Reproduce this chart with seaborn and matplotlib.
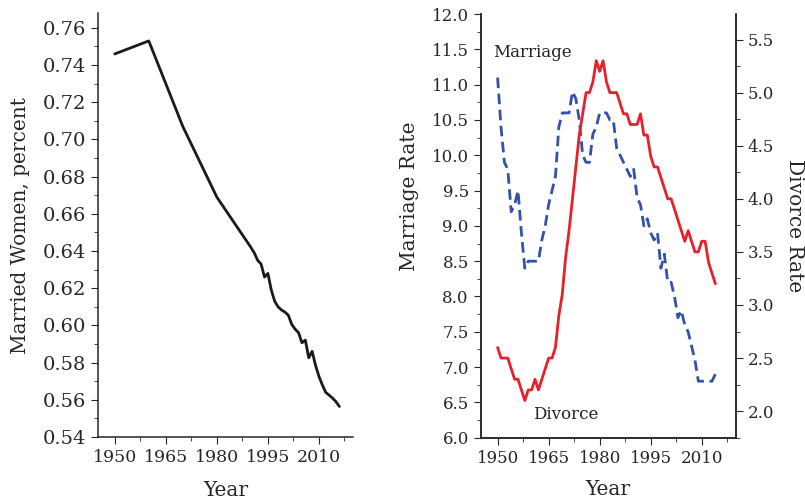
import numpy as np
import seaborn as sns
from matplotlib import pyplot as plt
from matplotlib.ticker import MultipleLocator

# -------------------------------------------
# data

women_years = [1950, 1960, 1970, 1980, 1990, 1991, 1992, 1993, 1994, 1995, 1996, 1997,
               1998, 1999, 2000, 2001, 2002, 2003, 2004, 2005, 2006, 2007, 2008, 2009,
               2010, 2011, 2012, 2013, 2014, 2015, 2016]
married_women = [0.746, 0.753, 0.707, 0.669, 0.642, 0.639, 0.635, 0.633, 0.626, 0.628,
                 0.619, 0.613, 0.610, 0.6083, 0.6072, 0.6055, 0.6006, 0.598, 0.5961,
                 0.5907, 0.5921, 0.5826, 0.5861, 0.5785, 0.5726, 0.568, 0.564, 0.5625,
                 0.5609, 0.559, 0.5564]

rate_years = list(range(1950, 2015))
marriage_rate = [11.1, 10.4, 9.9, 9.8, 9.2, 9.3, 9.5, 8.9, 8.4, 8.5,
                 8.5, 8.5, 8.5, 8.8, 9.0, 9.3, 9.5, 9.7, 10.4, 10.6,
                 10.6, 10.6, 10.9, 10.8, 10.5, 10.0, 9.9, 9.9, 10.3, 10.4,
                 10.6, 10.6, 10.6, 10.5, 10.5, 10.1, 10.0, 9.9, 9.8, 9.7,
                 9.8, 9.4, 9.3, 9.0, 9.1, 8.9, 8.8, 8.9, 8.4, 8.6,
                 8.2, 8.2, 8.0, 7.7, 7.8, 7.6, 7.5, 7.3, 7.1, 6.8,
                 6.8, 6.8, 6.8, 6.8, 6.9]
divorce_rate = [2.6, 2.5, 2.5, 2.5, 2.4, 2.3, 2.3, 2.2, 2.1, 2.2,
                2.2, 2.3, 2.2, 2.3, 2.4, 2.5, 2.5, 2.6, 2.9, 3.1,
                3.45, 3.7, 4.0, 4.3, 4.6, 4.8, 5.0, 5.0, 5.1, 5.3,
                5.2, 5.3, 5.1, 5.0, 5.0, 5.0, 4.9, 4.8, 4.8, 4.7,
                4.7, 4.7, 4.8, 4.6, 4.6, 4.4, 4.3, 4.3, 4.2, 4.1,
                4.0, 4.0, 3.9, 3.8, 3.7, 3.6, 3.7, 3.6, 3.5, 3.5,
                3.6, 3.6, 3.4, 3.3, 3.2]

year_ticks = [1950, 1965, 1980, 1995, 2010]

# -------------------------------------------
# style

sns.set_style('ticks')
plt.rcParams['font.family'] = ['DejaVu Serif']
plt.rcParams['font.size'] = 12
plt.rcParams['axes.linewidth'] = 1.1
plt.rcParams['xtick.major.size'] = 5
plt.rcParams['ytick.major.size'] = 5
plt.rcParams['xtick.minor.size'] = 3
plt.rcParams['ytick.minor.size'] = 3
plt.rcParams['xtick.labelsize'] = 12
plt.rcParams['ytick.labelsize'] = 12

label_size = 14.5
red = '#e8202a'
blue = '#3352a8'


def style_xaxis(ax, label_y):
    ax.set_xlim(1945, 2020)
    ax.set_xticks(year_ticks)
    ax.xaxis.set_minor_locator(MultipleLocator(7.5))
    ax.set_xlabel('Year', fontsize=label_size, va='center')
    ax.xaxis.set_label_coords(0.5, label_y)


fig = plt.figure(figsize=(8.05, 5.01), dpi=100)

# -------------------------------------------
# left: married women

ax1 = fig.add_axes([0.1214, 0.1277, 0.3171, 0.8463])
sns.lineplot(x=women_years, y=married_women, ax=ax1, color='#1a1a1a', lw=2.0)
ax1.set_ylim(0.54, 0.768)
ax1.set_yticks(np.arange(0.54, 0.761, 0.02))
ax1.yaxis.set_minor_locator(MultipleLocator(0.01))
ax1.yaxis.set_major_formatter(plt.FormatStrFormatter('%.2f'))
ax1.tick_params(axis='y', labelsize=14)
ax1.tick_params(axis='x', labelsize=12.5)
style_xaxis(ax1, -0.125)
ax1.set_ylabel('Married Women, percent', fontsize=label_size, va='center')
ax1.yaxis.set_label_coords(-0.304, 0.5)
sns.despine(ax=ax1)

# -------------------------------------------
# right: marriage and divorce rates

ax2 = fig.add_axes([0.597, 0.1263, 0.317, 0.8457])
ax3 = ax2.twinx()

sns.lineplot(x=rate_years, y=marriage_rate, ax=ax2, color=blue, lw=2.0, ls=(0, (3.8, 2.0)))
sns.lineplot(x=rate_years, y=divorce_rate, ax=ax3, color=red, lw=2.0)

ax2.set_ylim(6.0, 12.0)
ax2.set_yticks(np.arange(6.0, 12.01, 0.5))
ax2.yaxis.set_minor_locator(MultipleLocator(0.25))
ax2.yaxis.set_major_formatter(plt.FormatStrFormatter('%.1f'))
style_xaxis(ax2, -0.123)
ax2.set_ylabel('Marriage Rate', fontsize=label_size, va='center')
ax2.yaxis.set_label_coords(-0.277, 0.57)

ax3.set_ylim(1.75, 5.74)
ax3.set_yticks(np.arange(2.0, 5.51, 0.5))
ax3.yaxis.set_minor_locator(MultipleLocator(0.25))
ax3.yaxis.set_major_formatter(plt.FormatStrFormatter('%.1f'))
ax3.set_ylabel('Divorce Rate', fontsize=label_size, rotation=270, va='center')
ax3.yaxis.set_label_coords(1.231, 0.5)

for ax in (ax2, ax3):
    ax.spines['top'].set_visible(False)

ax2.text(1948.7, 11.46, 'Marriage', ha='left', va='center', fontsize=12, color='#222222')
ax2.text(1960.4, 6.33, 'Divorce', ha='left', va='center', fontsize=12, color='#222222')

fig.savefig('out.png', dpi=100)
